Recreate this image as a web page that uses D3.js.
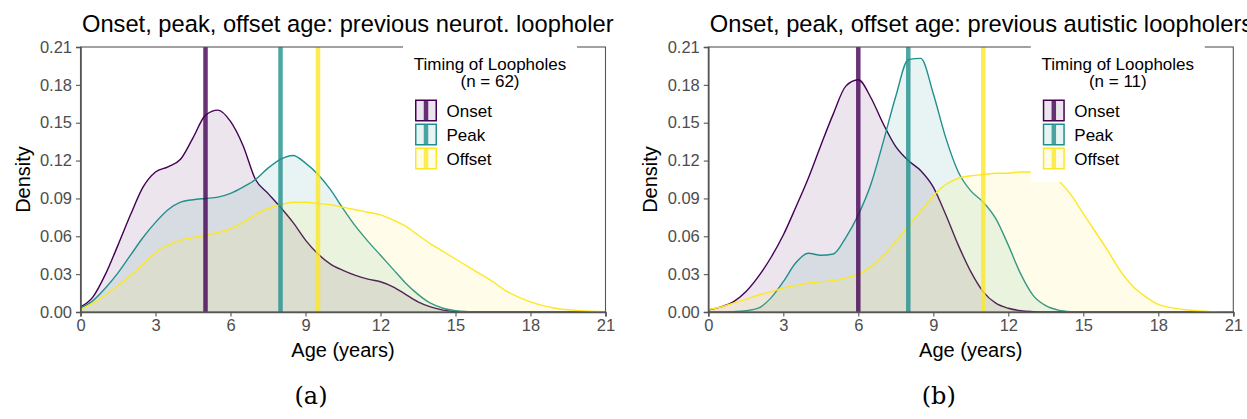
<!DOCTYPE html>
<html>
<head>
<meta charset="utf-8">
<script src="https://cdn.jsdelivr.net/npm/d3@7"></script>
<style>
body { margin: 0; background: #fff; }
svg text { font-family: "Liberation Sans", Arial, sans-serif; }
</style>
</head>
<body>
<svg id="chart" width="1247" height="419"></svg>
<script>
// age grid (years) the densities were read at
var ages = [0, 0.5, 1, 1.5, 2, 2.5, 3, 3.5, 4, 4.5, 5, 5.5, 6, 6.5, 7, 7.5, 8, 8.5, 9, 9.5,
    10, 10.5, 11, 11.5, 12, 12.5, 13, 13.5, 14, 14.5, 15, 15.5, 16, 16.5, 17, 17.5, 18, 19, 20, 21];

var seriesNames = ['Onset', 'Peak', 'Offset'];
var colors = ['#440154', '#21908C', '#FDE725'];
var xTicks = [0, 3, 6, 9, 12, 15, 18, 21];
var yTicks = [0, 0.03, 0.06, 0.09, 0.12, 0.15, 0.18, 0.21];

// (a) previous neurotypical loopholers
var neurotOnset = [0.004, 0.012, 0.030, 0.053, 0.077, 0.099, 0.111, 0.115, 0.121, 0.138,
    0.156, 0.160, 0.151, 0.132, 0.105, 0.094, 0.083, 0.071, 0.057, 0.046,
    0.038, 0.033, 0.029, 0.026, 0.024, 0.020, 0.014, 0.008, 0.004, 0.0015,
    0.0005, 0.0001, 0, 0, 0, 0, 0, 0, 0, 0];
var neurotPeak = [0.003, 0.009, 0.019, 0.031, 0.045, 0.059, 0.071, 0.081, 0.087, 0.089,
    0.090, 0.091, 0.094, 0.099, 0.105, 0.114, 0.121, 0.124, 0.118, 0.109,
    0.097, 0.082, 0.068, 0.056, 0.045, 0.034, 0.023, 0.014, 0.007, 0.003,
    0.001, 0.0003, 0, 0, 0, 0, 0, 0, 0, 0];
var neurotOffset = [0.002, 0.007, 0.0135, 0.021, 0.029, 0.038, 0.047, 0.053, 0.057, 0.059,
    0.061, 0.063, 0.066, 0.071, 0.077, 0.082, 0.085, 0.087, 0.087, 0.086,
    0.085, 0.083, 0.081, 0.079, 0.077, 0.073, 0.068, 0.061, 0.054, 0.048,
    0.042, 0.036, 0.030, 0.024, 0.017, 0.012, 0.008, 0.003, 0.001, 0.0003];
var neurotMarkers = [5, 8, 9.5];

// (b) previous autistic loopholers
var autisticOnset = [0.0016, 0.004, 0.008, 0.016, 0.028, 0.043, 0.061, 0.083, 0.106, 0.132,
    0.157, 0.179, 0.184, 0.170, 0.149, 0.131, 0.120, 0.112, 0.099, 0.077,
    0.053, 0.032, 0.016, 0.007, 0.003, 0.001, 0.0003, 0, 0, 0,
    0, 0, 0, 0, 0, 0, 0, 0, 0, 0];
var autisticPeak = [0, 0, 0.0003, 0.001, 0.003, 0.011, 0.024, 0.039, 0.0465, 0.045,
    0.046, 0.059, 0.077, 0.101, 0.135, 0.171, 0.200, 0.201, 0.173, 0.138,
    0.111, 0.096, 0.087, 0.074, 0.053, 0.030, 0.013, 0.005, 0.0015, 0.0003,
    0, 0, 0, 0, 0, 0, 0, 0, 0, 0];
var autisticOffset = [0.002, 0.004, 0.007, 0.010, 0.0135, 0.016, 0.019, 0.021, 0.023, 0.024,
    0.025, 0.027, 0.030, 0.036, 0.045, 0.056, 0.068, 0.080, 0.092, 0.101,
    0.106, 0.108, 0.109, 0.110, 0.110, 0.111, 0.111, 0.109, 0.104, 0.093,
    0.078, 0.063, 0.048, 0.032, 0.020, 0.012, 0.006, 0.002, 0.0005, 0.0001];
var autisticMarkers = [6, 8, 11];

var svg = d3.select('#chart');

function drawPanel(left, title, densities, markers, n, caption) {
    var right = left + 525;
    var top = 47, bottom = 312;

    var x = d3.scaleLinear().domain([0, 21]).range([left, right]);
    var y = d3.scaleLinear().domain([0, 0.21]).range([bottom, top]);

    var g = svg.append('g');

    var area = d3.area()
        .x(function (d) { return x(d[0]); })
        .y0(y(0))
        .y1(function (d) { return y(d[1]); })
        .curve(d3.curveMonotoneX);
    var line = d3.line()
        .x(function (d) { return x(d[0]); })
        .y(function (d) { return y(d[1]); })
        .curve(d3.curveMonotoneX);

    // density fills + outlines
    densities.forEach(function (vals, i) {
        var pts = ages.map(function (a, j) { return [a, vals[j]]; });
        g.append('path')
            .datum(pts)
            .attr('d', area)
            .style('fill', colors[i])
            .style('fill-opacity', 0.1);
        g.append('path')
            .datum(pts)
            .attr('d', line)
            .style('fill', 'none')
            .style('stroke', colors[i])
            .style('stroke-width', 1.4);
    });

    // median markers
    g.selectAll('.vline')
        .data(markers)
        .enter()
        .append('line')
        .attr('x1', function (d) { return x(d); })
        .attr('x2', function (d) { return x(d); })
        .attr('y1', top)
        .attr('y2', bottom)
        .style('stroke', function (d, i) { return colors[i]; })
        .style('stroke-opacity', 0.8)
        .style('stroke-width', 4.5);

    // panel border
    g.append('rect')
        .attr('x', left).attr('y', top)
        .attr('width', right - left).attr('height', bottom - top)
        .style('fill', 'none')
        .style('stroke', '#555')
        .style('stroke-width', 1.1);

    var yAxis = g.append('g')
        .attr('transform', 'translate(' + left + ',0)')
        .call(d3.axisLeft(y).tickValues(yTicks).tickFormat(d3.format('.2f')).tickSize(4.5).tickPadding(4));
    var xAxis = g.append('g')
        .attr('transform', 'translate(0,' + bottom + ')')
        .call(d3.axisBottom(x).tickValues(xTicks).tickSize(4.5).tickPadding(3));
    [xAxis, yAxis].forEach(function (ax) {
        ax.select('.domain').style('stroke', '#555').style('stroke-width', 1.6);
        ax.selectAll('.tick line').style('stroke', '#555').style('stroke-width', 1.1);
        ax.selectAll('.tick text')
            .style('font-family', '"Liberation Sans", Arial, sans-serif')
            .style('font-size', '16.5px')
            .style('fill', '#4d4d4d');
    });

    // titles
    g.append('text')
        .attr('x', left + 1.5).attr('y', 32)
        .style('font-size', '23.7px')
        .style('fill', '#000')
        .text(title);
    g.append('text')
        .attr('x', (left + right) / 2).attr('y', 357)
        .style('text-anchor', 'middle')
        .style('font-size', '20px')
        .text('Age (years)');
    g.append('text')
        .attr('transform', 'translate(' + (left - 51) + ',' + ((top + bottom) / 2) + ')rotate(-90)')
        .style('text-anchor', 'middle')
        .style('font-size', '20px')
        .text('Density');

    // legend
    var lx = left + 322.5;
    var lg = g.append('g');
    lg.append('rect')
        .attr('x', lx).attr('y', 40)
        .attr('width', 174).attr('height', 142)
        .style('fill', '#fff');
    lg.append('text')
        .attr('x', lx + 87).attr('y', 70)
        .style('text-anchor', 'middle')
        .style('font-size', '17px')
        .text('Timing of Loopholes');
    lg.append('text')
        .attr('x', lx + 87).attr('y', 87)
        .style('text-anchor', 'middle')
        .style('font-size', '17px')
        .text('(n = ' + n + ')');

    var keys = lg.selectAll('.key')
        .data(seriesNames)
        .enter()
        .append('g')
        .attr('transform', function (d, i) { return 'translate(' + (lx + 12) + ',' + (99.5 + i * 24) + ')'; });
    keys.append('rect')
        .attr('x', 0.75).attr('y', 0.75)
        .attr('width', 20.5).attr('height', 20.5)
        .style('fill', function (d, i) { return colors[i]; })
        .style('fill-opacity', 0.1)
        .style('stroke', function (d, i) { return colors[i]; })
        .style('stroke-width', 1.5);
    keys.append('line')
        .attr('x1', 11).attr('x2', 11)
        .attr('y1', 1.5).attr('y2', 20.5)
        .style('stroke', function (d, i) { return colors[i]; })
        .style('stroke-opacity', 0.8)
        .style('stroke-width', 4.5);
    keys.append('text')
        .attr('x', 31.5).attr('y', 17)
        .style('font-size', '17px')
        .text(function (d) { return d; });

    // subfigure caption
    svg.append('text')
        .attr('x', (left + right) / 2 - 32).attr('y', 404)
        .style('text-anchor', 'middle')
        .style('font-family', '"DejaVu Serif", "Liberation Serif", serif')
        .style('font-size', '24px')
        .text(caption);
}

drawPanel(80.5, 'Onset, peak, offset age: previous neurot. loopholer',
    [neurotOnset, neurotPeak, neurotOffset], neurotMarkers, 62, '(a)');
drawPanel(708.3, 'Onset, peak, offset age: previous autistic loopholers',
    [autisticOnset, autisticPeak, autisticOffset], autisticMarkers, 11, '(b)');
</script>
</body>
</html>
